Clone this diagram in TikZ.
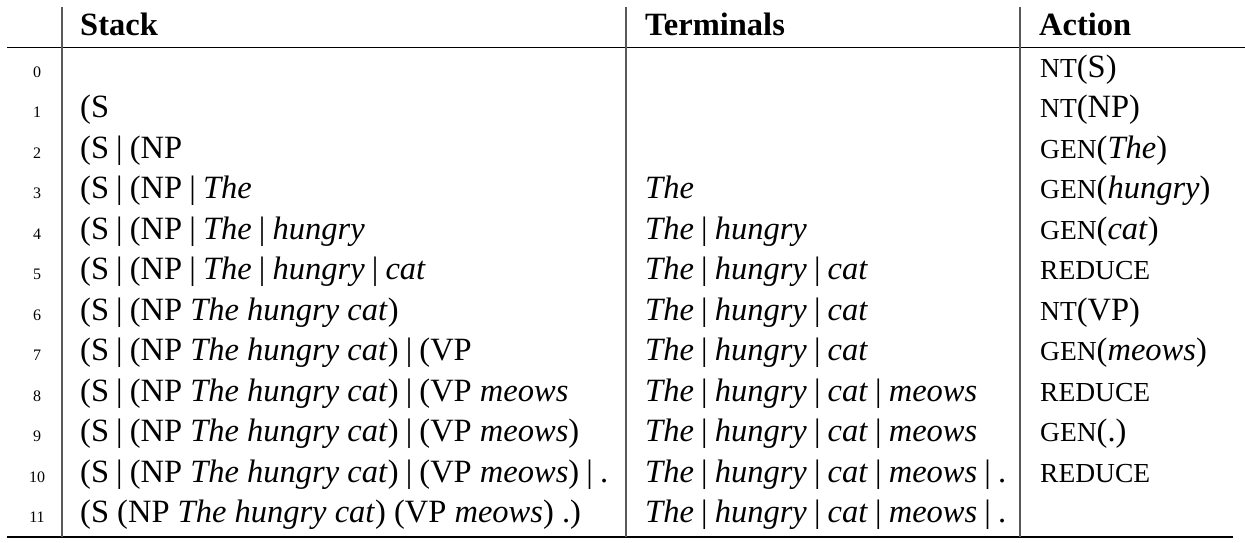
\documentclass[tikz,border=0pt]{standalone}
\usepackage{fontspec}
\setmainfont{Liberation Serif}
\newcommand\smc[1]{{\fontsize{27.5}{27.5}\selectfont #1}}
\newcommand\sepbar{\kern0.22em|\kern0.22em}
\newcommand\word[1]{\textit{#1}}
\begin{document}
\begin{tikzpicture}[x=1pt,y=-1pt,
  cell/.style={anchor=base west,inner sep=0pt,font=\fontsize{32.5}{32.5}\selectfont},
  head/.style={anchor=base west,inner sep=0pt,font=\fontsize{32.5}{32.5}\selectfont\bfseries},
  idx/.style={anchor=base,inner sep=0pt,font=\fontsize{16}{16}\selectfont},
  rule/.style={line width=1.3pt},
  colline/.style={line width=1.2pt,black!65}]
\useasboundingbox (0,0) rectangle (1245,543);
\node(hstack) [head] at (80,36) {Stack};
\node(hterm) [head] at (645,36) {Terminals};
\node(hact) [head] at (1039,36) {Action};
\foreach \i/\stk/\trm/\act in {
  0/{}/{}/{\smc{NT}(S)},
  1/{(S}/{}/{\smc{NT}(NP)},
  2/{(S\sepbar(NP}/{}/{\smc{GEN}(\word{The})},
  3/{(S\sepbar(NP\sepbar\word{The}}/{\word{The}}/{\smc{GEN}(\word{hungry})},
  4/{(S\sepbar(NP\sepbar\word{The}\sepbar\word{hungry}}/{\word{The}\sepbar\word{hungry}}/{\smc{GEN}(\word{cat})},
  5/{(S\sepbar(NP\sepbar\word{The}\sepbar\word{hungry}\sepbar\word{cat}}/{\word{The}\sepbar\word{hungry}\sepbar\word{cat}}/{\smc{REDUCE}},
  6/{(S\sepbar(NP \word{The hungry cat})}/{\word{The}\sepbar\word{hungry}\sepbar\word{cat}}/{\smc{NT}(VP)},
  7/{(S\sepbar(NP \word{The hungry cat})\sepbar(VP}/{\word{The}\sepbar\word{hungry}\sepbar\word{cat}}/{\smc{GEN}(\word{meows})},
  8/{(S\sepbar(NP \word{The hungry cat})\sepbar(VP \word{meows}}/{\word{The}\sepbar\word{hungry}\sepbar\word{cat}\sepbar\word{meows}}/{\smc{REDUCE}},
  9/{(S\sepbar(NP \word{The hungry cat})\sepbar(VP \word{meows})}/{\word{The}\sepbar\word{hungry}\sepbar\word{cat}\sepbar\word{meows}}/{\smc{GEN}(.)},
  10/{(S\sepbar(NP \word{The hungry cat})\sepbar(VP \word{meows})\sepbar.}/{\word{The}\sepbar\word{hungry}\sepbar\word{cat}\sepbar\word{meows}\sepbar.}/{\smc{REDUCE}},
  11/{(S (NP \word{The hungry cat}) (VP \word{meows}) .)}/{\word{The}\sepbar\word{hungry}\sepbar\word{cat}\sepbar\word{meows}\sepbar.}/{}}
{
  \node(n\i) [idx] at (37,{77.5+40.45*\i}) {\i};
  \node(s\i) [cell] at (80,{77.5+40.45*\i}) {\stk};
  \node(t\i) [cell] at (645,{77.5+40.45*\i}) {\trm};
  \node(a\i) [cell] at (1040,{77.5+40.45*\i}) {\act};
}
% rules
\draw[rule] (7,47.5) -- (1245,47.5);
\draw[rule] (7,537) -- (1233,537);
\foreach \x in {62,626,1020}
  \draw[colline] (\x,7) -- (\x,537);
\end{tikzpicture}
\end{document}
